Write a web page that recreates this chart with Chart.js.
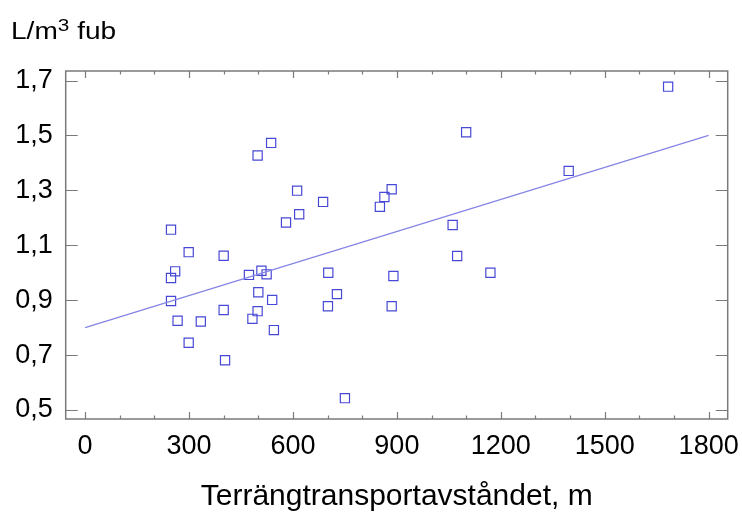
<!DOCTYPE html>
<html>
<head>
<meta charset="utf-8">
<script src="https://cdn.jsdelivr.net/npm/chart.js@4/dist/chart.umd.min.js"></script>
<style>
  html, body { margin: 0; padding: 0; background: #fff; }
  #wrap { position: relative; width: 742px; height: 512px; }
  #ytitle {
    position: absolute; left: 11px; top: 20px;
    font: 23px/23px 'Liberation Sans', Arial, sans-serif; color: #000;
    transform: scaleX(1.22); transform-origin: 0 0; white-space: nowrap;
  }
  #ytitle sup { font-size: 17px; line-height: 0; vertical-align: 8px; }
</style>
</head>
<body>
<div id="wrap">
  <canvas id="c" width="742" height="512"></canvas>
  <div id="ytitle">L/m<sup>3</sup> fub</div>
</div>
<script>
'use strict';

// Scatter: forwarding distance vs. litres per m3 fub, plus fitted line.
const distX = [248, 299, 400, 260, 248, 473, 509, 248, 500, 400,
  267, 334, 498, 483, 299, 404, 537, 498, 612, 687,
  618, 580, 702, 524, 540, 545, 701, 727, 885, 864,
  851, 890, 885, 750, 1100, 1061, 1074, 1170, 1683, 1396];
const volY = [1.157, 1.075, 1.062, 1.005, 0.981, 0.992, 1.007, 0.897, 0.929, 0.864,
  0.825, 0.822, 0.860, 0.832, 0.745, 0.681, 1.473, 1.427, 1.299, 1.258,
  1.213, 1.183, 1.000, 0.994, 0.901, 0.791, 0.878, 0.922, 1.304, 1.276,
  1.240, 0.988, 0.878, 0.543, 1.512, 1.174, 1.061, 1.000, 1.678, 1.371];

const fitX = [0, 1800];
const fitY = [0.8, 1.5];

const xTicks = [0, 300, 600, 900, 1200, 1500, 1800];
const xMinorTicks = [100, 200, 400, 500, 700, 800, 1000, 1100, 1300, 1400, 1600, 1700];
const yTicks = [0.5, 0.7, 0.9, 1.1, 1.3, 1.5, 1.7];

const FONT = 'Liberation Sans, Arial, sans-serif';

// Gray box with inward tick marks, like the original plot.
const frameTicks = {
  id: 'frameTicks',
  beforeDatasetsDraw(chart) {
    const { ctx, chartArea: a, scales: { x, y } } = chart;
    ctx.save();
    ctx.strokeStyle = '#7a7a7a';
    ctx.lineWidth = 1.5;
    ctx.strokeRect(a.left, a.top, a.right - a.left, a.bottom - a.top);
    ctx.lineWidth = 1.2;
    ctx.beginPath();
    const xMark = (v, len) => {
      const px = Math.round(x.getPixelForValue(v)) + 0.5;
      ctx.moveTo(px, a.top); ctx.lineTo(px, a.top + len);
      ctx.moveTo(px, a.bottom); ctx.lineTo(px, a.bottom - len);
    };
    xTicks.forEach((v) => xMark(v, 7));
    xMinorTicks.forEach((v) => xMark(v, 3.5));
    yTicks.forEach((v) => {
      const py = Math.round(y.getPixelForValue(v)) + 0.5;
      ctx.moveTo(a.left, py); ctx.lineTo(a.left + 12, py);
      ctx.moveTo(a.right, py); ctx.lineTo(a.right - 12, py);
    });
    ctx.stroke();
    ctx.restore();
  },
};

const points = distX.map((d, i) => ({ x: d, y: volY[i] }));
const fitLine = fitX.map((d, i) => ({ x: d, y: fitY[i] }));

new Chart(document.getElementById('c'), {
  type: 'scatter',
  data: {
    datasets: [
      {
        label: 'Fit',
        type: 'line',
        data: fitLine,
        borderColor: '#8585e6',
        borderWidth: 1.3,
        pointRadius: 0,
        fill: false,
        tension: 0,
      },
      {
        label: 'Obs',
        data: points,
        pointStyle: 'rect',
        pointRadius: 6.5,
        borderColor: '#4848d6',
        backgroundColor: 'rgba(0,0,0,0)',
        borderWidth: 1.2,
      },
    ],
  },
  options: {
    responsive: false,
    animation: false,
    layout: { padding: { left: 0, right: 14.3, top: 71, bottom: 0 } },
    plugins: {
      legend: { display: false },
      tooltip: { enabled: false },
      title: { display: false },
    },
    scales: {
      x: {
        type: 'linear',
        min: -56,
        max: 1855,
        afterBuildTicks: (s) => { s.ticks = xTicks.map((v) => ({ value: v })); },
        afterFit: (s) => { s.height = 93; s.paddingLeft = 0; s.paddingRight = 0; },
        grid: { display: false, drawTicks: false },
        border: { display: false },
        ticks: {
          color: '#000',
          padding: 11,
          maxRotation: 0,
          autoSkip: false,
          font: { family: FONT, size: 27 },
          callback: (v) => String(v),
        },
        title: {
          display: true,
          text: 'Terrängtransportavståndet, m',
          color: '#000',
          font: { family: FONT, size: 30 },
          padding: { top: 0, bottom: -3 },
        },
      },
      y: {
        type: 'linear',
        min: 0.467,
        max: 1.735,
        afterBuildTicks: (s) => { s.ticks = yTicks.map((v) => ({ value: v })); },
        afterFit: (s) => { s.width = 65.7; s.paddingTop = 0; s.paddingBottom = 0; },
        grid: { display: false, drawTicks: false },
        border: { display: false },
        ticks: {
          color: '#000',
          padding: 13,
          autoSkip: false,
          font: { family: FONT, size: 27 },
          callback: (v) => v.toFixed(1).replace('.', ','),
        },
      },
    },
  },
  plugins: [frameTicks],
});
</script>
</body>
</html>
